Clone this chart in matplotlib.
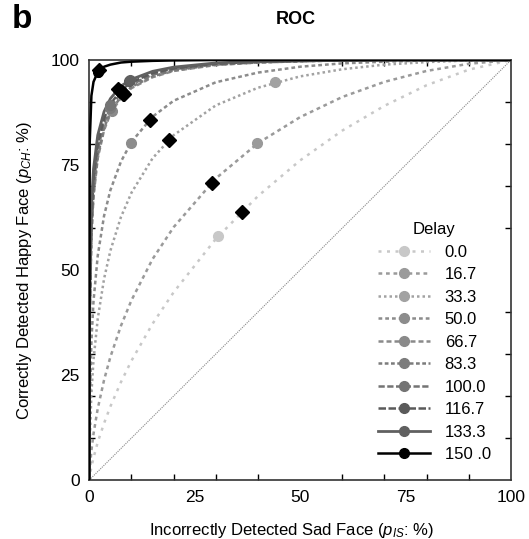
import matplotlib.pyplot as plt
from matplotlib.lines import Line2D

plt.rcParams["font.family"] = ["Liberation Sans", "DejaVu Sans"]
plt.rcParams["mathtext.fontset"] = "custom"
plt.rcParams["mathtext.rm"] = "Liberation Sans"
plt.rcParams["mathtext.it"] = "Liberation Sans:italic"

# False-alarm grid (% incorrectly detected sad face) shared by the fitted curves.
fa_grid = [0, 0.1, 0.5, 1, 2, 3.5, 5, 7.5, 10, 15, 20, 30, 40, 50, 60, 70, 80, 90, 100]

# Hit rate (% correctly detected happy face) of each fitted curve on that grid.
roc_0 = [0, 0.9, 3.1, 5.3, 9.0, 13.5, 17.5, 23.3, 28.4, 37.2, 44.7, 57.4, 67.6, 76.1, 83.2, 89.1, 94.0, 97.7, 100]
roc_16 = [0, 2.3, 7.0, 11.0, 17.0, 23.8, 29.3, 36.7, 42.8, 52.6, 60.2, 71.8, 80.2, 86.4, 91.2, 94.8, 97.4, 99.1, 100]
roc_33 = [0, 9.2, 20.7, 28.6, 38.4, 47.9, 54.6, 62.6, 68.4, 76.6, 82.1, 89.2, 93.4, 96.1, 97.8, 98.9, 99.5, 99.9, 100]
roc_50 = [0, 17.1, 33.1, 42.6, 53.4, 62.9, 69.0, 75.8, 80.5, 86.5, 90.3, 94.7, 97.0, 98.4, 99.2, 99.6, 99.9, 100, 100]
roc_66 = [0, 37.8, 58.1, 67.5, 76.6, 83.3, 87.2, 91.0, 93.3, 95.9, 97.4, 98.8, 99.4, 99.7, 99.9, 100, 100, 100, 100]
roc_83 = [0, 38.6, 58.9, 68.2, 77.2, 83.8, 87.6, 91.3, 93.6, 96.1, 97.5, 98.9, 99.4, 99.7, 99.9, 100, 100, 100, 100]
roc_100 = [0, 40.5, 60.8, 70.0, 78.7, 85.0, 88.6, 92.1, 94.2, 96.5, 97.8, 99.0, 99.5, 99.8, 99.9, 100, 100, 100, 100]
roc_116 = [0, 42.4, 62.7, 71.7, 80.1, 86.1, 89.5, 92.8, 94.7, 96.9, 98.0, 99.1, 99.6, 99.8, 99.9, 100, 100, 100, 100]
roc_133 = [0, 45.2, 65.4, 74.1, 82.1, 87.7, 90.8, 93.8, 95.4, 97.3, 98.3, 99.3, 99.7, 99.8, 99.9, 100, 100, 100, 100]
roc_150 = [0, 80.5, 91.5, 94.8, 97.1, 98.4, 98.9, 99.4, 99.6, 99.8, 99.9, 100, 100, 100, 100, 100, 100, 100, 100]

delays = ["0.0", "16.7", "33.3", "50.0", "66.7", "83.3", "100.0", "116.7", "133.3", "150 .0"]

# Observed operating points (circles).
obs_fa = [30.6, 39.8, 44.0, 9.8, 5.3, 5.0, 4.8, 9.4, 9.6, 2.1]
obs_hit = [58.1, 80.3, 94.8, 80.3, 87.9, 88.6, 89.2, 94.9, 95.3, 97.2]

# Unbiased points on the minor diagonal (diamonds).
sym_fa = [36.1, 29.2, 19.0, 14.3, 8.2, 8.1, 7.7, 7.3, 6.9, 2.3]
sym_hit = [63.9, 70.8, 81.0, 85.7, 91.8, 91.9, 92.3, 92.7, 93.1, 97.7]

curves = [roc_0, roc_16, roc_33, roc_50, roc_66, roc_83, roc_100, roc_116, roc_133, roc_150]
colors = ["#c8c8c8", "#9a9a9a", "#a2a2a2", "#8c8c8c", "#8a8a8a",
          "#7c7c7c", "#747474", "#5a5a5a", "#606060", "#000000"]
styles = [(0, (1.2, 2.2)), (0, (1.5, 1.5)), (0, (1, 1.2)), (0, (1.5, 1.2)), (0, (2, 1.2)),
          (0, (1.5, 1)), (0, (2.5, 1)), (0, (3, 1)), "-", "-"]
widths = [1.8, 1.8, 1.8, 1.8, 1.8, 1.8, 1.8, 1.8, 2.0, 1.8]

fig = plt.figure(figsize=(5.29, 5.39), dpi=100)
ax = fig.add_axes([89.3 / 529, 59 / 539, 421.7 / 529, 420 / 539])

ax.plot([0, 100], [0, 100], color="#888888", lw=0.8, ls=(0, (1, 1)), zorder=1)

handles = []
for i, hits in enumerate(curves):
    ax.plot(fa_grid, hits, color=colors[i], ls=styles[i], lw=widths[i], zorder=2 + i * 0.1)
    ax.plot(obs_fa[i], obs_hit[i], "o", color=colors[i], ms=7, zorder=3 + i * 0.1)
    handles.append(Line2D([], [], color=colors[i], ls=styles[i], lw=widths[i],
                          marker="o", ms=7))
ax.plot(sym_fa, sym_hit, "D", color="black", ms=7, ls="none", zorder=5)

ax.set_xlim(0, 100)
ax.set_ylim(0, 100)
ticks = [0, 25, 50, 75, 100]
ax.set_xticks(ticks)
ax.set_yticks(ticks)
ax.set_xticks(range(0, 101, 10), minor=True)
ax.set_yticks(range(0, 101, 10), minor=True)
ax.tick_params(which="major", length=0, labelsize=12.5, pad=7)
ax.tick_params(which="minor", direction="in", length=4, width=1, top=True, right=True)
for spine in ax.spines.values():
    spine.set_linewidth(1.2)
    spine.set_color("#333333")

ax.set_xlabel(r"Incorrectly Detected Sad Face ($p_{IS}$: %)", fontsize=12)
ax.set_ylabel(r"Correctly Detected Happy Face ($p_{CH}$: %)", fontsize=12)
ax.xaxis.set_label_coords(0.48, -0.098)
ax.yaxis.set_label_coords(-0.13, 0.5)

leg = ax.legend(handles, delays, title="Delay", loc="upper left", frameon=False,
                bbox_to_anchor=(378 / 529, 1 - 222 / 539), bbox_transform=fig.transFigure,
                fontsize=12, title_fontsize=12, handlelength=3.1, handletextpad=0.9,
                labelspacing=0.45, borderpad=0, borderaxespad=0)

fig.text(296 / 529, 1 - 19 / 539, "ROC", fontsize=13, fontweight="bold", ha="center", va="center")
fig.text(12 / 529, 1 - 19 / 539, "b", fontsize=24, fontweight="bold", ha="left", va="center")

fig.savefig("out.png", dpi=100)
